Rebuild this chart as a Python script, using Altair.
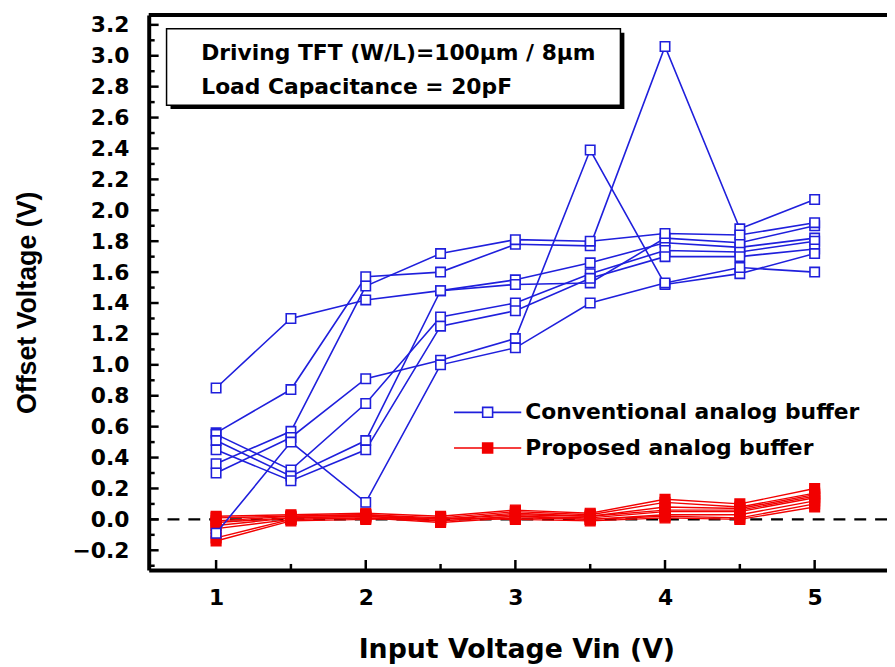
import altair as alt
import pandas as pd

# ---------------- data ----------------
x_vin = [1.0, 1.5, 2.0, 2.5, 3.0, 3.5, 4.0, 4.5, 5.0]

conv_1 = [0.85, 1.30, 1.42, 1.48, 1.55, 1.66, 1.79, 1.76, 1.82]
conv_2 = [0.56, 0.84, 1.57, 1.60, 1.78, 1.77, 3.06, 1.88, 2.07]
conv_3 = [0.55, 0.32, 0.75, 1.31, 1.40, 1.59, 1.74, 1.73, 1.80]
conv_4 = [0.51, 0.28, 0.51, 1.48, 1.52, 1.53, 1.82, 1.79, 1.90]
conv_5 = [0.45, 0.25, 0.45, 1.25, 1.35, 1.56, 1.70, 1.70, 1.75]
conv_6 = [0.36, 0.57, 1.51, 1.72, 1.81, 1.80, 1.85, 1.84, 1.92]
conv_7 = [0.30, 0.53, 0.91, 1.03, 1.17, 2.39, 1.52, 1.59, 1.72]
conv_8 = [-0.09, 0.50, 0.11, 1.00, 1.11, 1.40, 1.53, 1.63, 1.60]

prop_1 = [0.02, 0.03, 0.04, 0.02, 0.06, 0.04, 0.13, 0.10, 0.20]
prop_2 = [0.01, 0.02, 0.03, 0.01, 0.05, 0.03, 0.11, 0.08, 0.17]
prop_3 = [-0.01, 0.02, 0.03, 0.00, 0.04, 0.02, 0.08, 0.07, 0.16]
prop_4 = [-0.02, 0.01, 0.02, 0.00, 0.03, 0.02, 0.06, 0.06, 0.15]
prop_5 = [-0.04, 0.01, 0.02, -0.01, 0.02, 0.01, 0.05, 0.05, 0.14]
prop_6 = [-0.06, 0.00, 0.01, -0.01, 0.02, 0.00, 0.03, 0.03, 0.12]
prop_7 = [-0.12, 0.00, 0.01, -0.02, 0.01, 0.00, 0.02, 0.01, 0.10]
prop_8 = [-0.14, -0.01, 0.00, 0.01, 0.00, -0.01, 0.01, 0.00, 0.08]

y_major = [-0.2, 0.0, 0.2, 0.4, 0.6, 0.8, 1.0, 1.2, 1.4, 1.6, 1.8, 2.0,
           2.2, 2.4, 2.6, 2.8, 3.0, 3.2]
y_minor = [-0.3, -0.1, 0.1, 0.3, 0.5, 0.7, 0.9, 1.1, 1.3, 1.5, 1.7, 1.9,
           2.1, 2.3, 2.5, 2.7, 2.9, 3.1]
x_major = [1, 2, 3, 4, 5]
x_minor = [1.5, 2.5, 3.5, 4.5]

CONV = "Conventional analog buffer"
PROP = "Proposed analog buffer"
box_lines = ["Driving TFT (W/L)=100\u03bcm / 8\u03bcm", "Load Capacitance = 20pF"]

rows = []
for i, s in enumerate([conv_1, conv_2, conv_3, conv_4, conv_5, conv_6, conv_7, conv_8], 1):
    for xv, yv in zip(x_vin, s):
        rows.append({"vin": xv, "off": yv, "series": f"c{i}", "kind": CONV})
for i, s in enumerate([prop_1, prop_2, prop_3, prop_4, prop_5, prop_6, prop_7, prop_8], 1):
    for xv, yv in zip(x_vin, s):
        rows.append({"vin": xv, "off": yv, "series": f"p{i}", "kind": PROP})
df = pd.DataFrame(rows)

# ---------------- styling ----------------
FONT = "DejaVu Sans"
FONT_Y = "Liberation Sans"
W, H = 745, 560
X_DOM = [0.5497, 0.5497 + W / 151.0]
Y_DOM = [-0.327, 3.264]
BLUE = "#1f1fdc"
RED = "#f20000"

xscale = alt.Scale(domain=X_DOM, nice=False, zero=False)
yscale = alt.Scale(domain=Y_DOM, nice=False, zero=False)
cscale = alt.Scale(domain=[CONV, PROP], range=[BLUE, RED])
fscale = alt.Scale(domain=[CONV, PROP], range=["white", RED])

LEG_PATH = "M-2.3,0H-0.36M0.36,0H2.3M-0.34,-0.34H0.34V0.34H-0.34Z"
legend = alt.Legend(title=None, orient="none", legendX=326, legendY=385,
                    symbolType=LEG_PATH, symbolSize=870, symbolStrokeWidth=1.6,
                    symbolOpacity=1, labelFont=FONT, labelFontSize=22,
                    labelFontWeight="bold", labelColor="black", labelOffset=22,
                    labelLimit=600, rowPadding=9)

x_axis = alt.Axis(values=x_major, format="d", ticks=False, domain=True,
                  domainWidth=4, domainColor="black", labelFont=FONT,
                  labelFontSize=22, labelFontWeight="bold", labelColor="black",
                  labelPadding=18, grid=False, title="Input Voltage Vin (V)",
                  titleFont=FONT, titleFontSize=27, titleFontWeight="bold",
                  titleColor="black", titleX=371, titleY=80,
                  titleBaseline="middle", titleAlign="center")
y_axis = alt.Axis(values=y_major, format=".1f", ticks=False, domain=True,
                  domainWidth=4, domainColor="black", labelFont=FONT,
                  labelFontSize=22, labelFontWeight="bold", labelColor="black",
                  labelPadding=20, grid=False, title="Offset Voltage (V)",
                  titleFont=FONT_Y, titleFontSize=27, titleFontWeight="bold",
                  titleColor="black", titleX=-122, titleY=290, titleAngle=270,
                  titleBaseline="middle", titleAlign="center")


def xenc(field="vin"):
    return alt.X(f"{field}:Q", scale=xscale, axis=x_axis)


def yenc(field="off"):
    return alt.Y(f"{field}:Q", scale=yscale, axis=y_axis)


color = alt.Color("kind:N", scale=cscale, legend=legend)
fill = alt.Fill("kind:N", scale=fscale, legend=legend)

base = alt.Chart(df)

zero_line = alt.Chart(pd.DataFrame({"off": [0.0]})).mark_rule(
    color="black", strokeWidth=2.5, strokeDash=[12, 9]
).encode(y=yenc())

red_lines = base.transform_filter(alt.datum.kind == PROP).mark_line(
    strokeWidth=1.4).encode(x=xenc(), y=yenc(), color=color, detail="series:N")
red_pts = base.transform_filter(alt.datum.kind == PROP).mark_point(
    shape="square", size=100, strokeWidth=1.2, opacity=1, filled=False
).encode(x=xenc(), y=yenc(), color=color, fill=fill)
blue_lines = base.transform_filter(alt.datum.kind == CONV).mark_line(
    strokeWidth=1.6).encode(x=xenc(), y=yenc(), color=color, detail="series:N")
blue_pts = base.transform_filter(alt.datum.kind == CONV).mark_point(
    shape="square", size=90, strokeWidth=1.6, opacity=1, filled=False
).encode(x=xenc(), y=yenc(), color=color, fill=fill)

# inward tick marks and top frame line
ytick_major = alt.Chart(pd.DataFrame({"off": y_major})).mark_rule(
    color="black", strokeWidth=2.5).encode(y=yenc(), x=alt.value(0), x2=alt.value(10))
ytick_minor = alt.Chart(pd.DataFrame({"off": y_minor})).mark_rule(
    color="black", strokeWidth=2.5).encode(y=yenc(), x=alt.value(0), x2=alt.value(6))
xtick_major = alt.Chart(pd.DataFrame({"vin": x_major})).mark_rule(
    color="black", strokeWidth=2.5).encode(x=xenc(), y=alt.value(H), y2=alt.value(H - 10))
xtick_minor = alt.Chart(pd.DataFrame({"vin": x_minor})).mark_rule(
    color="black", strokeWidth=2.5).encode(x=xenc(), y=alt.value(H), y2=alt.value(H - 6))
top_line = alt.Chart(pd.DataFrame({"a": [0]})).mark_rule(
    color="black", strokeWidth=4).encode(x=alt.value(0), x2=alt.value(W),
                                         y=alt.value(0))

# annotation box
one = pd.DataFrame({"a": [0]})
shadow = alt.Chart(one).mark_rect(color="black").encode(
    x=alt.value(22), x2=alt.value(480), y=alt.value(18), y2=alt.value(95))
box = alt.Chart(one).mark_rect(fill="white", stroke="black", strokeWidth=1.5).encode(
    x=alt.value(18), x2=alt.value(476), y=alt.value(14), y2=alt.value(91))
txt1 = alt.Chart(pd.DataFrame({"t": [box_lines[0]]})).mark_text(
    font=FONT, fontSize=22, fontWeight="bold", align="left", baseline="middle",
    color="black").encode(text="t:N", x=alt.value(53), y=alt.value(38))
txt2 = alt.Chart(pd.DataFrame({"t": [box_lines[1]]})).mark_text(
    font=FONT, fontSize=22, fontWeight="bold", align="left", baseline="middle",
    color="black").encode(text="t:N", x=alt.value(53), y=alt.value(73))

chart = alt.layer(
    zero_line, red_lines, red_pts, blue_lines, blue_pts,
    ytick_major, ytick_minor, xtick_major, xtick_minor, top_line,
    shadow, box, txt1, txt2
).properties(
    width=W, height=H,
    autosize=alt.AutoSizeParams(type="none"),
    padding={"left": 142, "top": 4, "right": 0, "bottom": 100},
    background="white",
).configure_view(stroke=None)

chart.save("out.html", embed_options={"renderer": "svg", "actions": False})
